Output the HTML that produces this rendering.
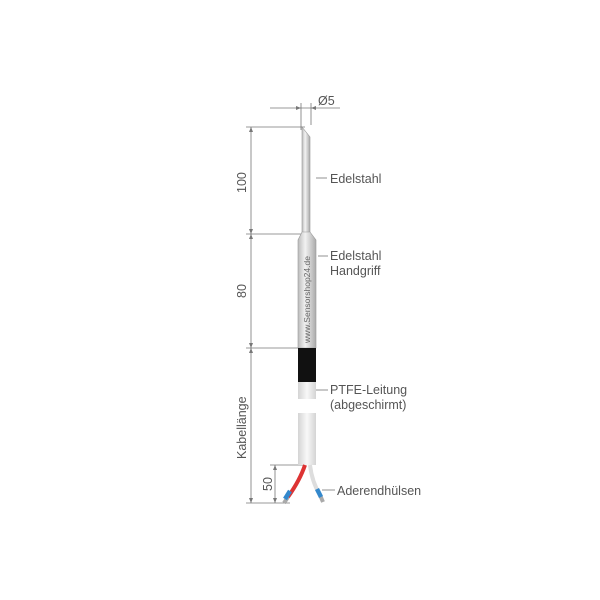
<!DOCTYPE html>
<html><head><style>body{margin:0;background:#fff}svg{display:block}text{font-family:"Liberation Sans",sans-serif;fill:#555}</style></head>
<body>
<svg width="600" height="600" viewBox="0 0 600 600">
<defs>
<linearGradient id="m" x1="0" x2="1"><stop offset="0" stop-color="#bbb"/><stop offset=".4" stop-color="#f2f2f2"/><stop offset="1" stop-color="#aaa"/></linearGradient>
<linearGradient id="w" x1="0" x2="1"><stop offset="0" stop-color="#d4d4d4"/><stop offset=".5" stop-color="#f8f8f8"/><stop offset="1" stop-color="#d4d4d4"/></linearGradient>
</defs>
<g stroke="#777" stroke-width="0.8" fill="none">
<line x1="270" y1="108" x2="340" y2="108"/>
<line x1="301" y1="103" x2="301" y2="130"/>
<line x1="311" y1="103" x2="311" y2="125"/>
<line x1="251" y1="127" x2="251" y2="503"/>
<line x1="246" y1="127" x2="305" y2="127"/>
<line x1="246" y1="234" x2="302" y2="234"/>
<line x1="246" y1="348" x2="300" y2="348"/>
<line x1="246" y1="503" x2="290" y2="503"/>
<line x1="275" y1="465" x2="275" y2="503"/>
<line x1="270" y1="465" x2="303" y2="465"/>
<line x1="316" y1="178" x2="327" y2="178"/>
<line x1="318" y1="256" x2="328" y2="256"/>
<line x1="316" y1="390" x2="328" y2="390"/>
<line x1="322" y1="490" x2="335" y2="490"/>
</g>
<g fill="#777">
<path d="M251 127l-2 5h4z M251 234l-2 -5h4z M251 234l-2 5h4z M251 348l-2 -5h4z M251 348l-2 5h4z M251 503l-2 -5h4z M275 465l-2 5h4z M275 503l-2 -5h4z M301 108l-5 -2v4z M311 108l5 -2v4z"/>
</g>
<path d="M302 127 L310 137 L310 234 L302 234 Z" fill="url(#m)" stroke="#999" stroke-width=".6"/>
<path d="M302 232 L310 232 L316 240 L316 348 L298 348 L298 240 Z" fill="url(#m)" stroke="#999" stroke-width=".6"/>
<text transform="translate(310,343) rotate(-90)" font-size="8.5" style="fill:#666">www.Sensorshop24.de</text>
<rect x="298" y="348" width="18" height="34" fill="#111"/>
<rect x="298" y="382" width="18" height="17" fill="url(#w)"/>
<rect x="298" y="413" width="18" height="52" fill="url(#w)"/>
<path d="M305 465 Q300 480 288 497" stroke="#d33" stroke-width="4" fill="none"/>
<path d="M288 497 L284 503" stroke="#aaa" stroke-width="4"/>
<path d="M290 491 L285 499" stroke="#38c" stroke-width="4.5"/>
<path d="M310 465 Q312 482 320 495" stroke="#ddd" stroke-width="4" fill="none"/>
<path d="M320 495 L323 502" stroke="#aaa" stroke-width="4"/>
<path d="M317 489 L321 497" stroke="#38c" stroke-width="4.5"/>
<g font-size="12.5">
<text x="318" y="105">Ø5</text>
<text x="330" y="183">Edelstahl</text>
<text x="330" y="260">Edelstahl</text>
<text x="330" y="275">Handgriff</text>
<text x="330" y="394">PTFE-Leitung</text>
<text x="330" y="409">(abgeschirmt)</text>
<text x="337" y="495">Aderendhülsen</text>
<text transform="translate(246,193) rotate(-90)">100</text>
<text transform="translate(246,298) rotate(-90)">80</text>
<text transform="translate(246,459) rotate(-90)">Kabellänge</text>
<text transform="translate(272,491) rotate(-90)">50</text>
</g>
</svg>
</body></html>
